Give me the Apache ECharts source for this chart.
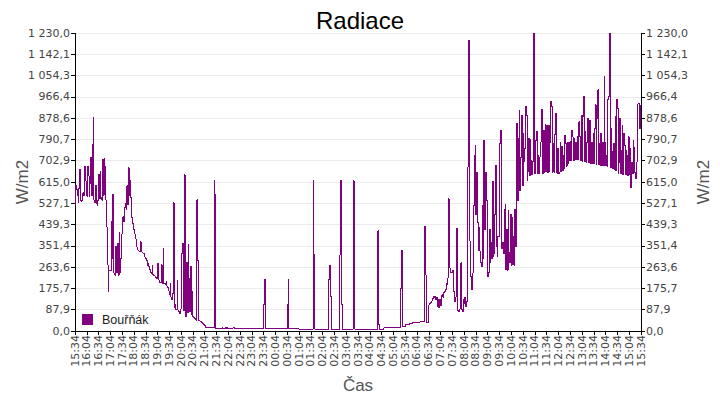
<!DOCTYPE html>
<html>
<head>
<meta charset="utf-8">
<title>Radiace</title>
<script src="https://cdn.jsdelivr.net/npm/echarts@6/dist/echarts.min.js"></script>
<style>
html, body { margin: 0; padding: 0; background: #fff; }
#chart { width: 720px; height: 400px; }
#chart svg path { shape-rendering: crispEdges; }
</style>
</head>
<body>
<div id="chart"></div>
<script>
// casy po 2 minutach, 15:34 -> 15:34 dalsi den
var startMin = 15 * 60 + 34;
var stepMin = 2;
var pointCount = 721;
var casy = [];
for (var i = 0; i < pointCount; i++) {
  var m = (startMin + i * stepMin) % 1440;
  casy.push(String(Math.floor(m / 60)).padStart(2, '0') + ':' + String(m % 60).padStart(2, '0'));
}

// radiace W/m2, jeden radek = 30 minut (15 hodnot)
var radiace = [
  520, 525, 600, 585, 560, 530, 590, 667, 540, 535, 550, 570, 560, 680, 620,   // 15:34
  600, 556, 680, 640, 556, 610, 715, 560, 770, 880, 540, 530, 600, 525, 520,   // 16:04
  540, 645, 545, 660, 550, 540, 708, 560, 710, 680, 540, 430, 273, 163, 250,   // 16:34
  252, 248, 453, 300, 563, 240, 232, 230, 350, 240, 363, 230, 405, 240, 300,   // 17:04
  400, 430, 472, 450, 510, 527, 500, 600, 520, 673, 560, 620, 550, 470, 445,   // 17:34
  440, 417, 400, 380, 348, 340, 334, 330, 327, 369, 330, 325, 322, 320, 318,   // 18:04
  305, 300, 290, 272, 280, 265, 255, 240, 238, 272, 232, 228, 226, 224, 220,   // 18:34
  217, 280, 212, 205, 200, 200, 273, 198, 341, 196, 195, 190, 204, 185, 180,   // 19:04
  165, 150, 197, 140, 128, 155, 530, 95, 110, 90, 87, 210, 85, 80, 73,         // 19:34
  90, 100, 320, 363, 85, 645, 70, 60, 284, 75, 356, 218, 80, 266, 70,          // 20:04
  165, 60, 55, 50, 48, 45, 542, 290, 43, 42, 40, 38, 35, 30, 28,               // 20:34
  25, 22, 16, 14, 14, 14, 14, 14, 13, 13, 13, 13, 13, 620, 563,                // 21:04
  11, 11, 11, 11, 11, 11, 11, 11, 14, 11, 11, 13, 11, 11, 14,                  // 21:34
  11, 11, 11, 11, 11, 11, 11, 14, 14, 11, 11, 11, 11, 11, 11,                  // 22:04
  10, 10, 10, 10, 12, 10, 10, 10, 10, 10, 10, 10, 10, 10, 10,                  // 22:34
  10, 10, 9, 9, 9, 9, 9, 9, 9, 9, 9, 9, 9, 9, 9,                               // 23:04
  9, 110, 213, 9, 9, 9, 9, 9, 9, 9, 9, 9, 9, 9, 9,                             // 23:34
  9, 9, 9, 9, 9, 9, 9, 9, 9, 9, 9, 9, 9, 9, 9,                                 // 00:04
  9, 110, 213, 9, 9, 9, 9, 9, 9, 9, 9, 9, 9, 9, 9,                             // 00:34
  8, 8, 8, 8, 8, 8, 8, 8, 8, 8, 8, 8, 8, 8, 8,                                 // 01:04
  8, 8, 8, 8, 620, 314, 8, 8, 8, 8, 8, 8, 8, 8, 8,                             // 01:34
  8, 8, 8, 8, 8, 8, 8, 8, 8, 213, 272, 142, 8, 8, 8,                           // 02:04
  8, 8, 8, 8, 8, 8, 8, 8, 314, 620, 110, 8, 8, 8, 8,                           // 02:34
  8, 8, 8, 8, 8, 8, 8, 8, 8, 8, 620, 110, 8, 8, 8,                             // 03:04
  8, 8, 8, 8, 8, 8, 8, 8, 8, 8, 8, 8, 8, 8, 8,                                 // 03:34
  8, 8, 8, 8, 8, 8, 8, 8, 8, 8, 8, 413, 27, 8, 8,                              // 04:04
  8, 8, 8, 8, 14, 14, 14, 14, 14, 14, 14, 14, 14, 14, 14,                      // 04:34
  14, 14, 14, 14, 14, 14, 14, 14, 14, 14, 176, 334, 18, 18, 18,                // 05:04
  18, 18, 27, 27, 27, 27, 27, 32, 32, 32, 34, 34, 34, 34, 34,                  // 05:34
  36, 36, 37, 37, 37, 38, 38, 38, 38, 38, 38, 433, 231, 35, 35,                // 06:04
  35, 108, 114, 118, 122, 125, 135, 143, 140, 143, 130, 138, 100, 130, 95,     // 06:34
  130, 105, 145, 150, 140, 160, 163, 170, 198, 190, 219, 545, 378, 260, 240,   // 07:04
  240, 250, 219, 163, 122, 140, 424, 100, 85, 80, 90, 95, 281, 87, 80,         // 07:34
  130, 115, 140, 100, 120, 676, 1046, 1199, 371, 225, 200, 170, 240, 517, 725, // 08:04
  766, 480, 655, 447, 334, 427, 330, 281, 265, 517, 300, 787, 420, 655, 538,   // 08:34
  538, 226, 240, 420, 281, 364, 300, 618, 309, 320, 482, 683, 350, 309, 392,   // 09:04
  390, 773, 829, 482, 340, 364, 320, 503, 524, 254, 420, 251, 496, 323, 281,   // 09:34
  482, 272, 468, 392, 272, 503, 348, 621, 857, 538, 794, 912, 579, 718, 891,   // 10:04
  600, 815, 698, 753, 926, 891, 621, 660, 794, 642, 790, 704, 645, 700, 1230,  // 10:34
  843, 649, 787, 825, 649, 725, 650, 718, 780, 884, 915, 650, 829, 655, 853,   // 11:04
  850, 656, 850, 656, 850, 780, 949, 926, 656, 773, 656, 811, 898, 884, 651,   // 11:34
  753, 651, 655, 780, 658, 760, 662, 725, 670, 808, 773, 680, 780, 690, 780,   // 12:04
  704, 783, 704, 829, 801, 704, 794, 706, 780, 708, 801, 706, 863, 801, 704,   // 12:34
  891, 700, 884, 967, 698, 822, 697, 780, 877, 695, 836, 870, 692, 780, 691,   // 13:04
  815, 690, 836, 933, 688, 877, 995, 686, 773, 685, 815, 684, 780, 683, 1051,  // 13:34
  780, 682, 725, 680, 956, 967, 1230, 675, 836, 740, 670, 773, 665, 884, 662,  // 14:04
  954, 919, 650, 697, 877, 648, 746, 850, 645, 815, 766, 644, 746, 725, 642,   // 14:34
  801, 648, 753, 593, 697, 650, 787, 756, 655, 628, 697, 808, 938, 940, 836,   // 15:04
  930                                                                          // 15:34
];

var yMax = 1230;
var yStep = yMax / 14;
var yLabels = ['0,0', '87,9', '175,7', '263,6', '351,4', '439,3', '527,1', '615,0',
  '702,9', '790,7', '878,6', '966,4', '1 054,3', '1 142,1', '1 230,0'];

var font = 'Liberation Sans';
var labelFont = 'DejaVu Sans';

function yLabel(v) {
  return yLabels[Math.round(v / yStep)];
}

function makeY(pos, gap, grid) {
  return {
    type: 'value',
    position: pos,
    min: 0,
    max: yMax,
    interval: yStep,
    name: 'W/m2',
    nameLocation: 'middle',
    nameRotate: 90,
    nameGap: gap,
    nameMoveOverlap: false,
    nameTextStyle: { fontFamily: font, fontSize: 17, color: '#555' },
    axisLine: { show: true, lineStyle: { color: '#000' } },
    axisTick: { show: true, length: 4, lineStyle: { color: '#000' } },
    axisLabel: { formatter: yLabel, fontFamily: labelFont, fontSize: 11, color: '#444', margin: 5 },
    splitLine: { show: grid, lineStyle: { color: '#ebebeb' } }
  };
}

var myChart = echarts.init(document.getElementById('chart'), null, { renderer: 'svg' });
var option = {
  animation: false,
  backgroundColor: '#fff',
  title: {
    text: 'Radiace',
    left: 'center',
    top: 3,
    textStyle: { fontFamily: font, fontSize: 24, fontWeight: 'normal', color: '#000' }
  },
  legend: {
    left: 77,
    top: 308,
    icon: 'rect',
    itemWidth: 11,
    itemHeight: 11,
    textStyle: { fontFamily: font, fontSize: 12.5, color: '#222', padding: [0, 0, 0, 4] },
    data: ['Bouřňák']
  },
  grid: { left: 75, right: 76, top: 33, bottom: 69, show: true, borderColor: '#000', borderWidth: 1 },
  xAxis: {
    type: 'category',
    data: casy,
    boundaryGap: false,
    name: 'Čas',
    nameLocation: 'middle',
    nameGap: 46,
    nameMoveOverlap: false,
    nameTextStyle: { fontFamily: font, fontSize: 17, color: '#555' },
    axisLine: { lineStyle: { color: '#000' } },
    axisTick: { interval: 14, length: 4, lineStyle: { color: '#000' } },
    axisLabel: { interval: 14, rotate: 90, fontFamily: labelFont, fontSize: 11, color: '#444', margin: 4 },
    splitLine: { show: false }
  },
  yAxis: [makeY('left', 44, true), makeY('right', 54, false)],
  series: [{
    name: 'Bouřňák',
    type: 'line',
    step: 'start',
    data: radiace,
    symbol: 'none',
    sampling: false,
    lineStyle: { color: '#800080', width: 1 },
    itemStyle: { color: '#800080' }
  }]
};
myChart.setOption(option);
</script>
</body>
</html>
